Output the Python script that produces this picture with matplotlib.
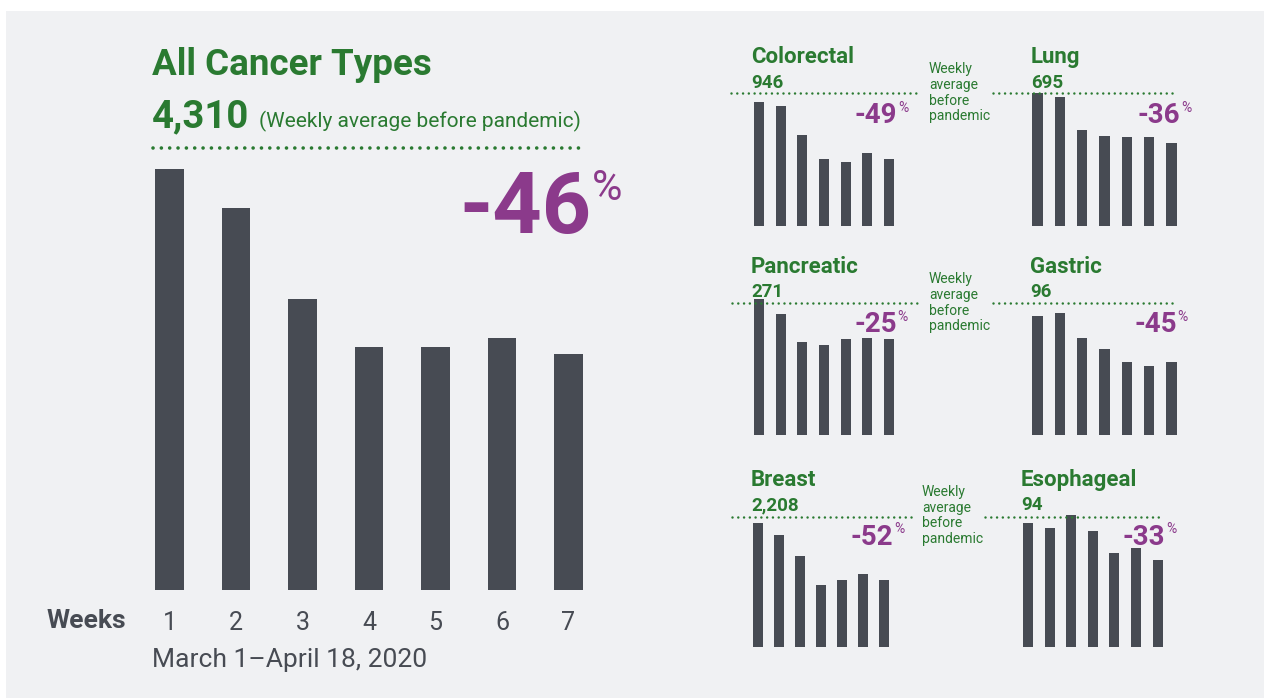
import matplotlib.pyplot as plt
from matplotlib.patches import Rectangle
from matplotlib.lines import Line2D
from matplotlib.transforms import blended_transform_factory

plt.rcParams['font.family'] = ['Roboto', 'DejaVu Sans']

# data
weeks = [1, 2, 3, 4, 5, 6, 7]
week_labels = ['1', '2', '3', '4', '5', '6', '7']

all_avg = 4310
all_counts = [4105, 3725, 2838, 2370, 2370, 2457, 2301]
all_change = '-46'

cancer_names = ['Colorectal', 'Lung', 'Pancreatic', 'Gastric', 'Breast', 'Esophageal']
cancer_avgs = [946, 695, 271, 96, 2208, 94]
cancer_changes = ['-49', '-36', '-25', '-45', '-52', '-33']
colorectal = [884, 854, 647, 477, 455, 519, 477]
lung = [695, 672, 503, 471, 466, 466, 435]
pancreatic = [280, 249, 191, 185, 197, 200, 197]
gastric = [87, 89, 71, 63, 53, 50, 53]
breast = [2116, 1906, 1548, 1053, 1138, 1240, 1138]
esophageal = [90, 86, 96, 84, 68, 72, 63]
cancer_counts = [colorectal, lung, pancreatic, gastric, breast, esophageal]

# colours
PANEL = '#f0f1f3'
BAR = '#474b53'
GREEN = '#2a7a31'
PURPLE = '#8b3a8b'

W, H = 1270, 698
fig = plt.figure(figsize=(W / 100, H / 100), dpi=100, facecolor='white')


def fx(x):
    return x / W


def fy(y):
    return 1 - y / H


def text(x, y, s, **kw):
    return fig.text(fx(x), fy(y), s, va='baseline', **kw)


def dotted(ax, x0, x1, yval, lw, gap):
    tr = blended_transform_factory(fig.transFigure, ax.transData)
    ax.add_line(Line2D([fx(x0), fx(x1)], [yval, yval], transform=tr, color=GREEN,
                       lw=lw, linestyle=(0, (0.01, gap)), dash_capstyle='round',
                       clip_on=False, zorder=3))


fig.add_artist(Rectangle((fx(6), 0), (W - 12) / W, fy(11), transform=fig.transFigure,
                         facecolor=PANEL, edgecolor='none', zorder=0))

# main chart
ax = fig.add_axes([fx(136.25), fy(590), 465.5 / W, 442 / H])
ax.patch.set_alpha(0)
ax.bar(weeks, all_counts, width=0.436, color=BAR, zorder=2)
ax.set_xlim(0.5, 7.5)
ax.set_ylim(0, all_avg)
ax.set_xticks(weeks, week_labels)
ax.set_yticks([])
ax.tick_params(axis='x', length=0, pad=15, labelsize=18, labelcolor=BAR)
for s in ax.spines.values():
    s.set_visible(False)
dotted(ax, 153, 580, all_avg, 2.6, 2.3)

text(152, 75, 'All Cancer Types', fontsize=26.5, fontweight='bold', color=GREEN)
text(152, 127, f'{all_avg:,}', fontsize=27.5, fontweight='bold', color=GREEN)
text(259, 127, '(Weekly average before pandemic)', fontsize=15, color=GREEN)
text(591, 233, all_change, fontsize=62, fontweight='bold', color=PURPLE, ha='right')
text(592, 200, '%', fontsize=30, color=PURPLE)
text(47, 627.7, 'Weeks', fontsize=19, fontweight='bold', color=BAR)
text(152, 667, 'March 1\u2013April 18, 2020', fontsize=19, color=BAR)

# small multiples
boxes = [(748.2, 899.9, 226, 93), (1026.3, 1182.6, 226, 93),
         (748.2, 899.9, 435, 303.3), (1026.3, 1182.6, 435, 303.3),
         (747.8, 894.5, 647, 517.3), (1017.2, 1168.4, 647, 517.3)]
line_x = [(731, 920), (993, 1176), (732, 920), (993, 1176), (732, 913), (985, 1162)]
title_x = [751, 1031, 751, 1030, 751, 1021]
title_y = [63.3, 273.3, 486]
avg_y = [88.3, 297, 510]
chg_x = [897, 1180, 896.7, 1176.7, 893.3, 1165]
chg_y = [122.7, 331.7, 545]
pct_y = [111.7, 321, 533.3]
note_x = [929, 929, 922]
note_y = [120.3, 330.3, 543]

for i, name in enumerate(cancer_names):
    left, right, base, top = boxes[i]
    r = i // 2
    a = fig.add_axes([fx(left), fy(base), (right - left) / W, (base - top) / H])
    a.patch.set_alpha(0)
    a.bar(weeks, cancer_counts[i], width=0.46, color=BAR, zorder=2, clip_on=False)
    a.set_xlim(0.5, 7.5)
    a.set_ylim(0, cancer_avgs[i])
    a.axis('off')
    dotted(a, line_x[i][0], line_x[i][1], cancer_avgs[i], 1.8, 2.3)
    text(title_x[i], title_y[r], name, fontsize=16, fontweight='bold', color=GREEN)
    text(title_x[i], avg_y[r], f'{cancer_avgs[i]:,}', fontsize=13.5, fontweight='bold', color=GREEN)
    text(chg_x[i], chg_y[r], cancer_changes[i], fontsize=20, fontweight='bold', color=PURPLE, ha='right')
    text(chg_x[i] + 1, pct_y[r], '%', fontsize=10, color=PURPLE)

for r in range(3):
    text(note_x[r], note_y[r], 'Weekly\naverage\nbefore\npandemic', fontsize=10,
         color=GREEN, linespacing=1.15)

fig.savefig('out.png', dpi=100, facecolor='white')
